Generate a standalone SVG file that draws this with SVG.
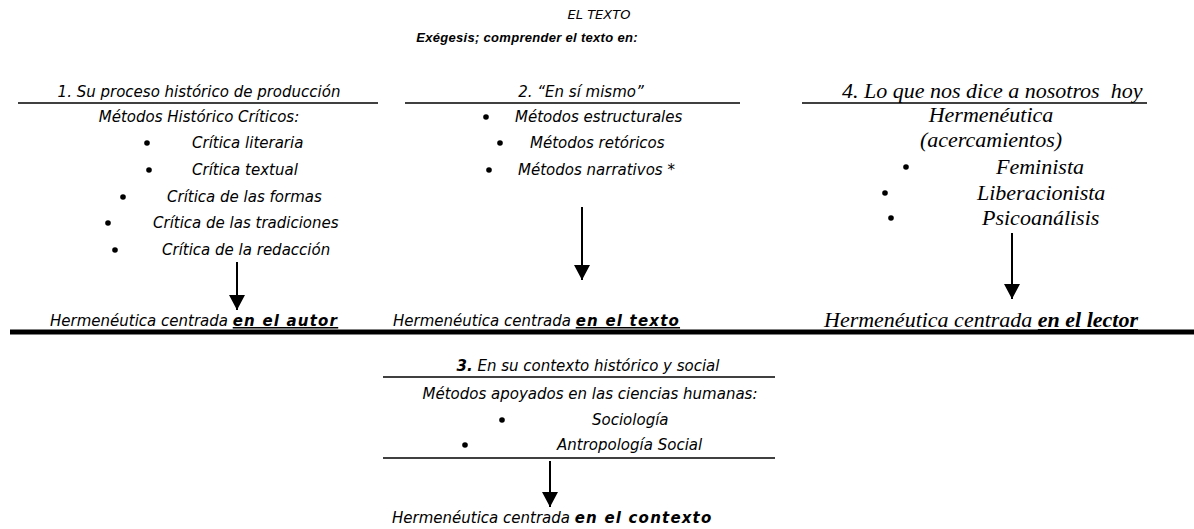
<svg xmlns="http://www.w3.org/2000/svg" width="1194" height="529" viewBox="0 0 1194 529">
<defs>
<marker id="ah" markerWidth="15" markerHeight="16" refX="15" refY="8" orient="auto" markerUnits="userSpaceOnUse" viewBox="0 0 15 16">
<path d="M0,0 L15,8 L0,16 Z" fill="#000"/>
</marker>
<style>
.s{font-family:"DejaVu Sans","Liberation Sans",sans-serif;font-style:italic;font-size:15px;fill:#000}
.t{font-size:13px}
.h{font-family:"Liberation Sans",Arial,sans-serif;font-style:italic;font-weight:bold;font-size:13px;letter-spacing:0.3px;fill:#000}
.b{font-weight:bold;letter-spacing:1.2px}
.u{text-decoration:underline}
.r{font-family:"Liberation Serif","Times New Roman",serif;font-style:italic;font-size:22px;fill:#000}
.ln{stroke:#000;stroke-width:1.6;fill:none}
.ar{stroke:#000;stroke-width:2;fill:none}
.bul{fill:#000}
</style>
</defs>
<rect width="1194" height="529" fill="#fff"/>
<g id="title">
<text class="s t" x="599" y="19" text-anchor="middle">EL TEXTO</text>
<text class="h" x="527" y="42" text-anchor="middle">Exégesis; comprender el texto en:</text>
</g>
<g id="col1">
<text class="s" x="199" y="97" text-anchor="middle">1. Su proceso histórico de producción</text>
<line class="ln" x1="18" y1="103" x2="378" y2="103"/>
<text class="s" x="199" y="122" text-anchor="middle">Métodos Histórico Críticos:</text>
<circle class="bul" cx="147" cy="143" r="2.8"/><text class="s" x="192" y="148">Crítica literaria</text>
<circle class="bul" cx="149" cy="170" r="2.8"/><text class="s" x="192" y="175">Crítica textual</text>
<circle class="bul" cx="123" cy="197" r="2.8"/><text class="s" x="167" y="202">Crítica de las formas</text>
<circle class="bul" cx="108" cy="223" r="2.8"/><text class="s" x="153" y="228">Crítica de las tradiciones</text>
<circle class="bul" cx="115" cy="250" r="2.8"/><text class="s" x="162" y="255">Crítica de la redacción</text>
<text class="s" x="50" y="326">Hermenéutica centrada <tspan class="b u">en el autor</tspan></text>
</g>
<g id="col2">
<text class="s" x="581" y="97" text-anchor="middle">2. “En sí mismo”</text>
<line class="ln" x1="405" y1="103" x2="740" y2="103"/>
<circle class="bul" cx="486" cy="117" r="2.8"/><text class="s" x="515" y="122">Métodos estructurales</text>
<circle class="bul" cx="500" cy="143" r="2.8"/><text class="s" x="530" y="148">Métodos retóricos</text>
<circle class="bul" cx="489" cy="170" r="2.8"/><text class="s" x="518" y="175">Métodos narrativos *</text>
<text class="s" x="393" y="326">Hermenéutica centrada <tspan class="b u">en el texto</tspan></text>
</g>
<g id="col4">
<text class="r" x="842" y="98" xml:space="preserve">4. Lo que nos dice a nosotros  hoy</text>
<line class="ln" x1="802" y1="103" x2="1147" y2="103"/>
<text class="r" x="991" y="122" text-anchor="middle">Hermenéutica</text>
<text class="r" x="991" y="147" text-anchor="middle">(acercamientos)</text>
<circle class="bul" cx="906" cy="167" r="2.8"/><text class="r" x="996" y="174">Feminista</text>
<circle class="bul" cx="885" cy="193" r="2.8"/><text class="r" x="977" y="200">Liberacionista</text>
<circle class="bul" cx="891" cy="218" r="2.8"/><text class="r" x="982" y="225">Psicoanálisis</text>
<text class="r" x="824" y="327">Hermenéutica centrada <tspan font-weight="bold" class="u">en el lector</tspan></text>
</g>
<g id="divider">
<line x1="10" y1="332" x2="1194" y2="332" stroke="#000" stroke-width="5"/>
</g>
<g id="col3">
<text class="s" x="588" y="371" text-anchor="middle"><tspan font-weight="bold">3.</tspan> En su contexto histórico y social</text>
<line class="ln" x1="383" y1="377" x2="775" y2="377"/>
<text class="s" x="590" y="399" text-anchor="middle">Métodos apoyados en las ciencias humanas:</text>
<circle class="bul" cx="502" cy="420" r="2.8"/><text class="s" x="592" y="425">Sociología</text>
<circle class="bul" cx="465" cy="445" r="2.8"/><text class="s" x="557" y="450">Antropología Social</text>
<line class="ln" x1="383" y1="458" x2="775" y2="458"/>
<text class="s" x="392" y="523">Hermenéutica centrada <tspan class="b">en el contexto</tspan></text>
</g>
<g id="connectors">
<line class="ar" x1="237" y1="262" x2="237" y2="310" marker-end="url(#ah)"/>
<line class="ar" x1="582" y1="207" x2="582" y2="280" marker-end="url(#ah)"/>
<line class="ar" x1="1012" y1="233" x2="1012" y2="299" marker-end="url(#ah)"/>
<line class="ar" x1="550" y1="461" x2="550" y2="507" marker-end="url(#ah)"/>
</g>
</svg>
